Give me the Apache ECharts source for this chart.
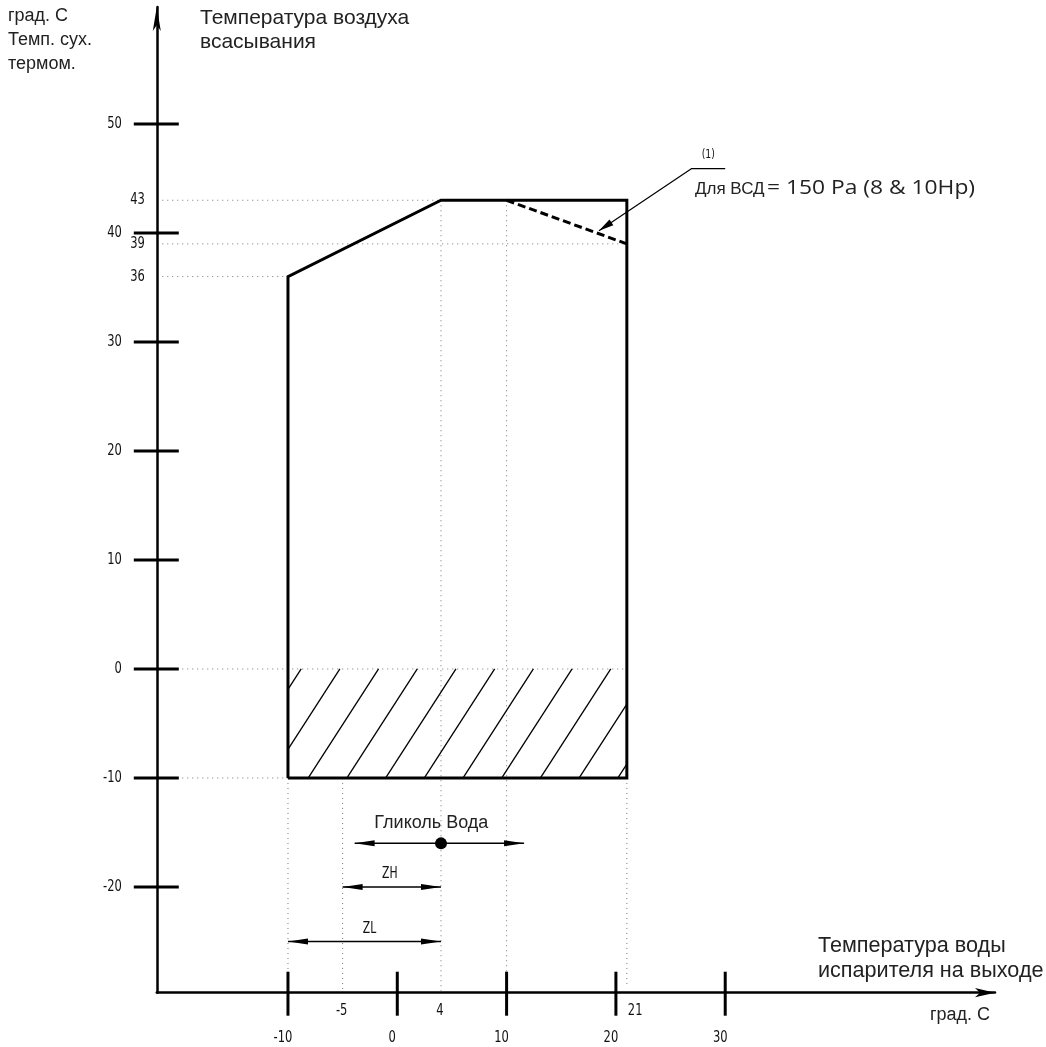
<!DOCTYPE html>
<html><head><meta charset="utf-8">
<script src="https://cdn.jsdelivr.net/npm/echarts@6/dist/echarts.min.js"></script>
<style>html,body{margin:0;padding:0;background:#fff}#c{width:1046px;height:1047px}</style>
</head><body><div id="c"></div>
<script>
// ---- data ----
const xMajorTicks = [-10, 0, 10, 20, 30];
const xMinorLabels = [-5, 4, 21];
const yMajorTicks = [50, 40, 30, 20, 10, 0, -10, -20];
const yMinorLabels = [43, 39, 36];
const envelope = [[-10, -10], [-10, 36], [4, 43], [21, 43], [21, -10], [-10, -10]];
const dashedLimit = [[10, 43], [21, 39]];
const hatchZone = [[-10, -10], [21, 0]];
// [y, xFrom, xTo]
const hGuides = [[43, -21.5, 21], [39, -21.5, 21], [36, -21.5, -10], [0, -21.5, 21], [-10, -21.5, -10]];
// [x, yFrom, yTo]
const vGuides = [[-10, -10, -29.7], [-5, -10, -29.7], [4, 43, -29.7], [10, 43, -29.7], [21, -10, -29.2]];
const rangeNames = ['Гликоль Вода', 'ZH', 'ZL'];
const rangeFrom = [-3.9, -5, -10];
const rangeTo = [11.6, 4, 4];
const rangeY = [-16, -20, -25];
const waterPoint = [[4, -16]];
const leader = [[18.45, 40.2], [26.9, 45.9], [30, 45.9]];

// ---- axes extents ----
const X0 = -22, X1 = 54.68, Y0 = -29.7, Y1 = 60.73;
const numFamily = "'DejaVu Sans','Liberation Sans',sans-serif";
const numFont = "16px " + numFamily;
const txtFont = "18px 'Liberation Sans',Arial,sans-serif";
const bigFont = "21px 'Liberation Sans',Arial,sans-serif";
const minorAlign = {21: 'left'};
const rangeLabelStyle = {
  'Гликоль Вода': {dx: -8, dy: -20, narrow: false},
  'ZH': {dx: -2, dy: -13, narrow: true},
  'ZL': {dx: 5, dy: -12, narrow: true}
};

function narrowText(text, x, y, align, font) {
  return {type: 'text', x: x, y: y, scaleX: 0.72,
    style: {text: text, x: 0, y: 0, align: align, verticalAlign: 'middle', font: font || numFont, fill: '#111'}};
}

function arrowHead(tip, from, len, hw) {
  const dx = tip[0] - from[0], dy = tip[1] - from[1];
  const d = Math.sqrt(dx * dx + dy * dy) || 1;
  const ux = dx / d, uy = dy / d;
  const bx = tip[0] - ux * len, by = tip[1] - uy * len;
  return {type: 'polygon', shape: {points: [tip, [bx - uy * hw, by + ux * hw], [bx + uy * hw, by - ux * hw]]},
    style: {fill: '#000'}};
}

const chart = echarts.init(document.getElementById('c'));
const option = {
  animation: false,
  backgroundColor: '#fff',
  grid: {left: 156.8, right: 51, top: 7, bottom: 54.3, containLabel: false, outerBoundsMode: 'none'},
  xAxis: {type: 'value', min: X0, max: X1,
    axisLine: {show: true, onZero: false, symbol: ['none', 'arrow'], symbolSize: [7, 20],
      lineStyle: {color: '#000', width: 2.5}},
    axisTick: {show: false}, axisLabel: {show: false}, splitLine: {show: false}},
  yAxis: {type: 'value', min: Y0, max: Y1,
    axisLine: {show: true, onZero: false, symbol: ['none', 'arrow'], symbolSize: [6, 24],
      lineStyle: {color: '#000', width: 2.5}},
    axisTick: {show: false}, axisLabel: {show: false}, splitLine: {show: false}},
  graphic: [
    {type: 'text', left: 8, top: 4, style: {text: 'град. С\nТемп. сух.\nтермом.', font: txtFont, lineHeight: 24, fill: '#222'}},
    {type: 'text', left: 200, top: 6, style: {text: 'Температура воздуха\nвсасывания', font: bigFont, lineHeight: 24, fill: '#222'}},
    {type: 'text', left: 818, top: 934, style: {text: 'Температура воды\nиспарителя на выходе', font: "21.6px 'Liberation Sans',Arial,sans-serif", lineHeight: 25, fill: '#222'}},
    {type: 'text', left: 930, top: 1006, style: {text: 'град. С', font: txtFont, fill: '#222'}},
    {type: 'text', left: 695, top: 181, style: {text: 'Для ВСД', font: "17px 'Liberation Sans',Arial,sans-serif", fill: '#222'}},
    {type: 'text', left: 767, top: 178, scaleX: 1.14, style: {text: '= 150 Pa (8 & 10Hp)', font: "20px 'Open Sans','Noto Sans',sans-serif", fill: '#222'}}
  ],
  series: [
    // dotted guides
    {type: 'custom', clip: false, silent: true, z: 1,
      data: hGuides,
      renderItem(params, api) {
        const a = api.coord([api.value(1), api.value(0)]), b = api.coord([api.value(2), api.value(0)]);
        return {type: 'line', shape: {x1: a[0], y1: a[1], x2: b[0], y2: b[1]},
          style: {stroke: '#777', lineWidth: 1, lineDash: [1, 4]}};
      }},
    {type: 'custom', clip: false, silent: true, z: 1,
      data: vGuides,
      renderItem(params, api) {
        const a = api.coord([api.value(0), api.value(1)]), b = api.coord([api.value(0), api.value(2)]);
        return {type: 'line', shape: {x1: a[0], y1: a[1], x2: b[0], y2: b[1]},
          style: {stroke: '#777', lineWidth: 1, lineDash: [1, 4]}};
      }},
    // hatch
    {type: 'custom', clip: false, silent: true, z: 2,
      data: [[hatchZone[0][0], hatchZone[0][1], hatchZone[1][0], hatchZone[1][1]]],
      renderItem(params, api) {
        const bl = api.coord([api.value(0), api.value(1)]);
        const tr = api.coord([api.value(2), api.value(3)]);
        const L = bl[0], R = tr[0], B = bl[1], T = tr[1];
        const H = B - T, DX = H * 0.645, step = 38.7;
        const kids = [];
        for (let bx = L + 20.3 - step * 3; bx < R; bx += step) {
          const t0 = Math.max(0, (L - bx) / DX), t1 = Math.min(1, (R - bx) / DX);
          if (t1 <= t0) continue;
          kids.push({type: 'line', shape: {x1: bx + t0 * DX, y1: B - t0 * H, x2: bx + t1 * DX, y2: B - t1 * H},
            style: {stroke: '#000', lineWidth: 1.3}});
        }
        return {type: 'group', children: kids};
      }},
    // envelope
    {type: 'line', data: envelope, symbol: 'none', z: 4, silent: true,
      lineStyle: {color: '#000', width: 3, join: 'miter'}},
    {type: 'line', data: dashedLimit, symbol: 'none', z: 4, silent: true,
      lineStyle: {color: '#000', width: 3, type: [8, 4]}},
    // leader line
    {type: 'line', data: leader, symbol: 'none', z: 4, silent: true,
      lineStyle: {color: '#000', width: 1.2}},
    {type: 'custom', clip: false, silent: true, z: 5,
      data: [[leader[0][0], leader[0][1], leader[1][0], leader[1][1], leader[2][0], leader[2][1]]],
      renderItem(params, api) {
        const tip = api.coord([api.value(0), api.value(1)]);
        const el = api.coord([api.value(2), api.value(3)]);
        const end = api.coord([api.value(4), api.value(5)]);
        return {type: 'group', children: [
          arrowHead(tip, el, 15, 3.5),
          narrowText('(1)', (el[0] + end[0]) / 2, el[1] - 14, 'center', "13px " + numFamily)
        ]};
      }},
    // range arrows
    {type: 'custom', clip: false, silent: true, z: 5,
      data: rangeNames.map((n, i) => [rangeFrom[i], rangeTo[i], rangeY[i]]),
      renderItem(params, api) {
        const a = api.coord([api.value(0), api.value(2)]), b = api.coord([api.value(1), api.value(2)]);
        const name = rangeNames[params.dataIndex];
        const st = rangeLabelStyle[name];
        const lx = (a[0] + b[0]) / 2 + st.dx, ly = a[1] + st.dy;
        const label = st.narrow ? narrowText(name, lx, ly, 'center', "15px " + numFamily)
          : {type: 'text', style: {text: name, x: lx, y: ly, align: 'center', verticalAlign: 'middle', font: txtFont, fill: '#222'}};
        return {type: 'group', children: [
          {type: 'line', shape: {x1: a[0], y1: a[1], x2: b[0], y2: b[1]}, style: {stroke: '#000', lineWidth: 1.5}},
          arrowHead(a, b, 20, 3),
          arrowHead(b, a, 20, 3),
          label
        ]};
      }},
    {type: 'scatter', data: waterPoint, symbol: 'circle', symbolSize: 12, z: 6, silent: true,
      itemStyle: {color: '#000', opacity: 1}},
    // y ticks and labels
    {type: 'custom', clip: false, silent: true, z: 5,
      data: yMajorTicks.map(v => [X0, v]),
      renderItem(params, api) {
        const p = api.coord([api.value(0), api.value(1)]);
        return {type: 'group', children: [
          {type: 'line', shape: {x1: p[0] - 23, y1: p[1], x2: p[0] + 22, y2: p[1]}, style: {stroke: '#000', lineWidth: 3}},
          narrowText(String(api.value(1)), p[0] - 35, p[1], 'right')
        ]};
      }},
    {type: 'custom', clip: false, silent: true, z: 5,
      data: yMinorLabels.map(v => [X0, v]),
      renderItem(params, api) {
        const p = api.coord([api.value(0), api.value(1)]);
        return narrowText(String(api.value(1)), p[0] - 12, p[1], 'right');
      }},
    // x ticks and labels
    {type: 'custom', clip: false, silent: true, z: 5,
      data: xMajorTicks.map(v => [v, Y0]),
      renderItem(params, api) {
        const p = api.coord([api.value(0), api.value(1)]);
        return {type: 'group', children: [
          {type: 'line', shape: {x1: p[0], y1: p[1] - 21, x2: p[0], y2: p[1] + 23}, style: {stroke: '#000', lineWidth: 3}},
          narrowText(String(api.value(0)), p[0] - 5, p[1] + 45, 'center')
        ]};
      }},
    {type: 'custom', clip: false, silent: true, z: 5,
      data: xMinorLabels.map(v => [v, Y0]),
      renderItem(params, api) {
        const v = api.value(0);
        const p = api.coord([v, api.value(1)]);
        const al = minorAlign[v] || 'center';
        return narrowText(String(v), al === 'left' ? p[0] + 1 : p[0] - 1, p[1] + 18, al);
      }}
  ]
};
chart.setOption(option);
</script></body></html>
